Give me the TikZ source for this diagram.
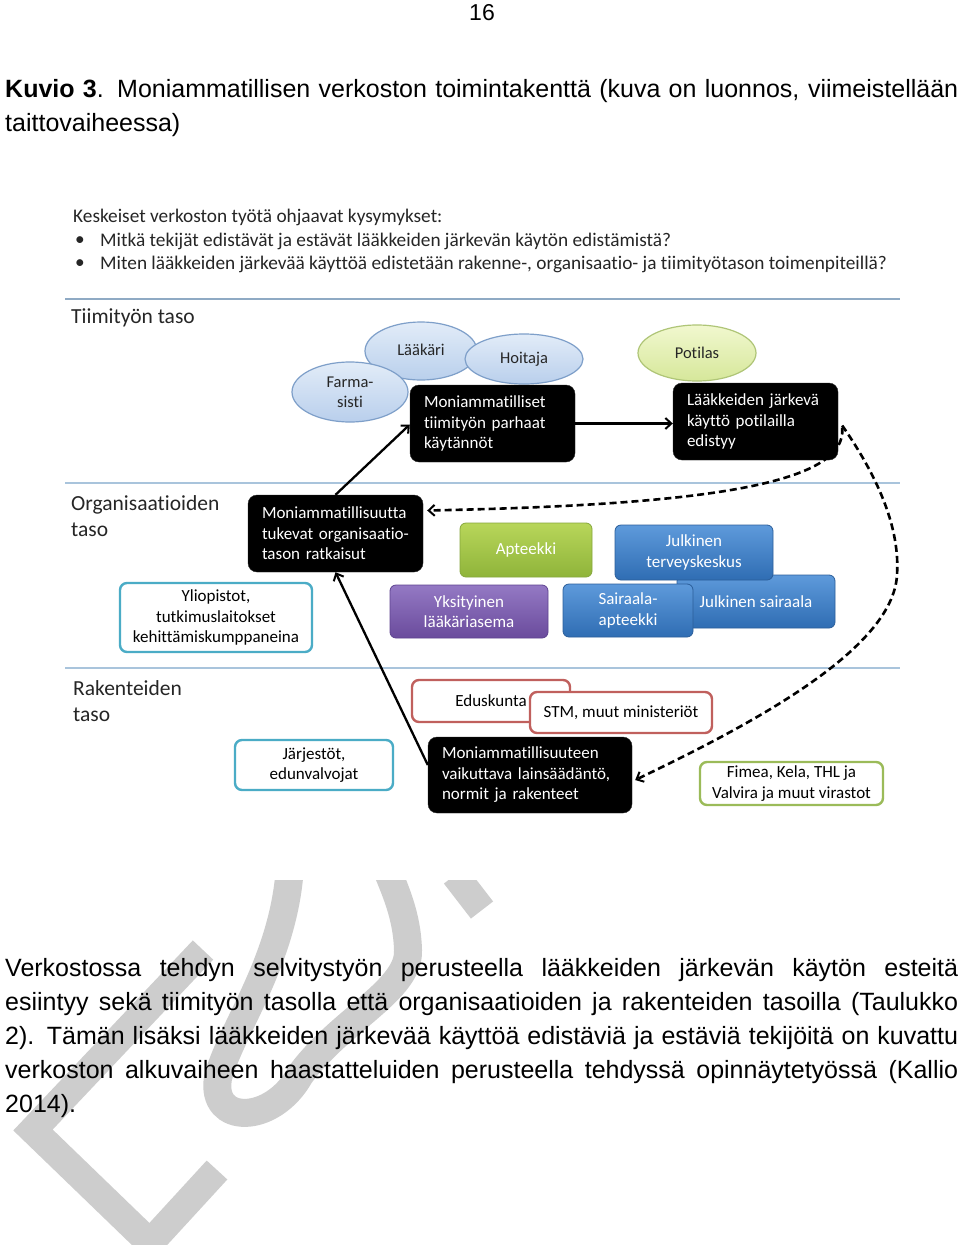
\documentclass[tikz,border=0pt]{standalone}
\usepackage{fontspec}
\setmainfont{Liberation Sans}
\newfontfamily\calib[Ligatures=NoCommon]{Carlito}
\usetikzlibrary{arrows.meta,shapes.geometric,calc}
\definecolor{lvlline}{HTML}{8FAAC4}
\definecolor{lvllineb}{HTML}{A9C4DC}
\definecolor{elltop}{HTML}{E2ECF8}
\definecolor{ellbot}{HTML}{B9CFEC}
\definecolor{elldraw}{HTML}{7E9FC9}
\definecolor{pottop}{HTML}{F1F8CF}
\definecolor{potbot}{HTML}{D6E79A}
\definecolor{potdraw}{HTML}{AFC577}
\definecolor{grtop}{HTML}{B8D65A}
\definecolor{grbot}{HTML}{8FB43A}
\definecolor{grdraw}{HTML}{86A73C}
\definecolor{bltop}{HTML}{5E9ADB}
\definecolor{blbot}{HTML}{2F6DB3}
\definecolor{bldraw}{HTML}{2B5E9A}
\definecolor{putop}{HTML}{9479C4}
\definecolor{pubot}{HTML}{6A4B9C}
\definecolor{pudraw}{HTML}{5E4390}
\definecolor{teal}{HTML}{4BACC6}
\definecolor{redb}{HTML}{C0605D}
\definecolor{greenb}{HTML}{9BBB59}
\definecolor{titlegray}{HTML}{262626}
\definecolor{wmark}{HTML}{CDCDCD}
\begin{document}
\begin{tikzpicture}[x=1pt,y=-1pt,
  dfont/.style={font=\calib\fontsize{17}{20.5}\selectfont},
  lvltitle/.style={font=\calib\fontsize{21.5}{26}\selectfont, text=titlegray, align=left, anchor=west, inner sep=0pt},
  headtxt/.style={font=\calib\fontsize{19.3}{23}\selectfont, text=titlegray, anchor=west, inner sep=0pt},
  blackbox/.style={dfont, draw=black!85, fill=black, rounded corners=9pt, text=white, align=left, inner xsep=14pt, inner ysep=0pt},
  ell/.style={ellipse, draw=elldraw, line width=1.2pt, top color=elltop, bottom color=ellbot, inner sep=0pt, align=center, font=\calib\fontsize{16.5}{20}\selectfont, text=black!85},
  potell/.style={ell, draw=potdraw, top color=pottop, bottom color=potbot},
  colbox/.style={dfont, rounded corners=6pt, text=white, inner sep=0pt, align=center, line width=0.8pt},
  greenbox/.style={colbox, draw=grdraw, top color=grtop, bottom color=grbot},
  bluebox/.style={colbox, draw=bldraw, top color=bltop, bottom color=blbot},
  purplebox/.style={colbox, draw=pudraw, top color=putop, bottom color=pubot},
  outbox/.style={dfont, fill=white, rounded corners=7pt, line width=2.4pt, inner sep=0pt, align=center, text=black},
  solidarrow/.style={line width=2.3pt, -{Straight Barb[length=6pt,width=11pt,line width=2pt]}},
  dasharrow/.style={line width=2.6pt, dash pattern=on 7pt off 4pt, -{Straight Barb[length=6pt,width=11pt,line width=2pt]}},
  lvl/.style={line width=2.5pt},
  wm/.style={draw=wmark, line width=28pt},
  body/.style={font=\fontsize{25}{34}\selectfont, anchor=base west, inner sep=0pt}
]
\useasboundingbox (0,0) rectangle (960,1245);
\fill[white] (0,0) rectangle (960,1245);

% watermark (behind the text, hidden above the figure)
\begin{scope}
\clip (0,880) rectangle (960,1245);
\draw[wm, line join=miter] (203,950) -- (33,1130) -- (150,1243) -- (217,1170);
\draw[wm] (290,865) .. controls (285,960) and (230,1030) .. (218,1078)
  .. controls (210,1125) and (272,1125) .. (300,1075)
  .. controls (340,1020) and (410,990) .. (408,950)
  .. controls (407,915) and (395,890) .. (385,865);
\draw[wm] (455,875) -- (482,910);
\end{scope}

% page number and caption
\node[font=\fontsize{23}{28}\selectfont, anchor=base, inner sep=0pt] (pnum) at (482,20.5) {16};
\node[body] (cap1) at (5,97) {\makebox[953pt][s]{\textbf{Kuvio 3}. Moniammatillisen verkoston toimintakenttä (kuva on luonnos, viimeistellään}};
\node[body] (cap2) at (5,131) {taittovaiheessa)};

% heading
\node[headtxt] (h0) at (73,217) {Keskeiset verkoston työtä ohjaavat kysymykset:};
\node[headtxt] (b1dot) at (75,241) {•};
\node[headtxt] (h1) at (100,241) {Mitkä tekijät edistävät ja estävät lääkkeiden järkevän käytön edistämistä?};
\node[headtxt] (b2dot) at (75,264) {•};
\node[headtxt] (h2) at (100,264) {Miten lääkkeiden järkevää käyttöä edistetään rakenne-, organisaatio- ja tiimityötason toimenpiteillä?};

% level lines
\draw[lvl, draw=lvlline] (65,299) -- (900,299);
\draw[lvl, draw=lvllineb] (65,483) -- (900,483);
\draw[lvl, draw=lvllineb] (65,668) -- (900,668);

\node[lvltitle] (t1) at (71,318) {Tiimityön taso};
\node[lvltitle] (t2) at (71,516) {Organisaatioiden\\taso};
\node[lvltitle] (t3) at (73,701) {Rakenteiden\\taso};

% team level
\node[ell, minimum width=112pt, minimum height=58pt] (laak) at (421,351) {\raisebox{2pt}{Lääkäri}};
\node[ell, minimum width=118pt, minimum height=50pt] (hoit) at (524,359) {\raisebox{2pt}{Hoitaja}};
\node[ell, minimum width=116pt, minimum height=60pt] (farm) at (350,392) {Farma-\\sisti};
\node[potell, minimum width=118pt, minimum height=56pt] (pot) at (697,353) {Potilas};

\node[blackbox, text width=137pt, minimum height=77pt] (bA) at (492.5,423.5) {Moniammatilliset\\tiimityön parhaat\\käytännöt};
\node[blackbox, text width=137pt, minimum height=77pt] (bB) at (755.5,421.5) {Lääkkeiden järkevä\\käyttö potilailla\\edistyy};

% organisation level
\node[blackbox, text width=147pt, minimum height=77pt] (bC) at (335.5,533.5) {Moniammatillisuutta\\tukevat organisaatio-\\tason ratkaisut};
\node[greenbox, minimum width=132pt, minimum height=54pt] (apt) at (526,550) {Apteekki};
\node[bluebox, minimum width=158pt, minimum height=53pt] (jsai) at (756,601.5) {Julkinen sairaala};
\node[bluebox, minimum width=158pt, minimum height=55pt] (jtk) at (694,552.5) {Julkinen\\terveyskeskus};
\node[bluebox, minimum width=130pt, minimum height=53pt] (sapt) at (628,610.5) {Sairaala-\\apteekki};
\node[purplebox, minimum width=158pt, minimum height=53pt] (yks) at (469,611.5) {Yksityinen\\lääkäriasema};
\node[outbox, draw=teal, minimum width=192pt, minimum height=69pt] (ylio) at (216,617.5) {Yliopistot,\\tutkimuslaitokset\\kehittämiskumppaneina};

% structure level
\node[outbox, draw=teal, minimum width=158pt, minimum height=50pt] (jarj) at (314,765) {Järjestöt,\\edunvalvojat};
\node[outbox, draw=redb, minimum width=158pt, minimum height=42pt] (edus) at (491,701) {Eduskunta};
\node[outbox, draw=redb, minimum width=182pt, minimum height=41pt] (stm) at (621,712.5) {STM, muut ministeriöt};
\node[outbox, draw=greenb, minimum width=183pt, minimum height=43pt] (fim) at (791.5,783.5) {Fimea, Kela, THL ja\\Valvira ja muut virastot};
\node[blackbox, text width=176pt, minimum height=76pt] (bD) at (530,775) {Moniammatillisuuteen\\vaikuttava lainsäädäntö,\\normit ja rakenteet};

% arrows
\draw[solidarrow] (bA.east) -- (bB.west |- bA.east);
\draw[solidarrow] (bC.north) -- ($(bA.west)+(0,1)$);
\draw[solidarrow] ($(bD.west)+(0,-10)$) -- (bC.south);
\coordinate (mid) at (897,575);
\draw[dasharrow] ($(bB.east)+(4,6)$) .. controls (848,485) and (700,505) .. ($(bC.east)+(4,-23)$);
\draw[dasharrow] ($(bB.east)+(4,4)$) .. controls (880,480) and (900,530) .. (mid) .. controls (893,650) and (750,725) .. ($(bD.east)+(3,5)$);

% body text
\node[body] (p1) at (5,976) {\makebox[953pt][s]{Verkostossa tehdyn selvitystyön perusteella lääkkeiden järkevän käytön esteitä}};
\node[body] (p2) at (5,1010) {\makebox[953pt][s]{esiintyy sekä tiimityön tasolla että organisaatioiden ja rakenteiden tasoilla (Taulukko}};
\node[body] (p3) at (5,1044) {\makebox[953pt][s]{2). Tämän lisäksi lääkkeiden järkevää käyttöä edistäviä ja estäviä tekijöitä on kuvattu}};
\node[body] (p4) at (5,1078) {\makebox[953pt][s]{verkoston alkuvaiheen haastatteluiden perusteella tehdyssä opinnäytetyössä (Kallio}};
\node[body] (p5) at (5,1112) {2014).};
\end{tikzpicture}
\end{document}
